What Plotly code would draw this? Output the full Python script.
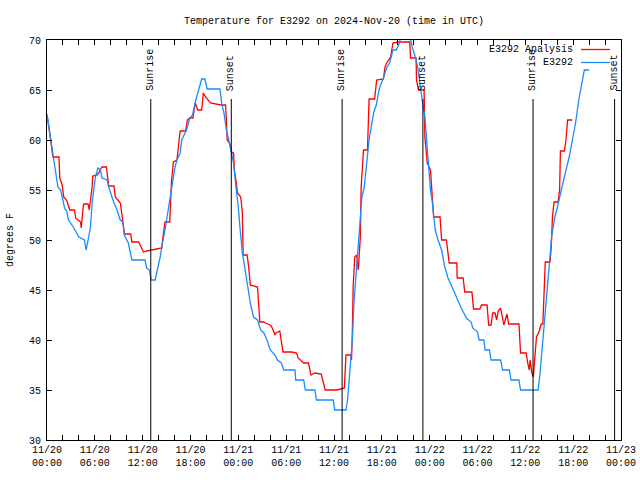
import pandas as pd
import plotly.graph_objects as go

START = pd.Timestamp("2024-11-20 00:00")

# E3292 Analysis (red) - hours since 11/20 00:00 UTC, degrees F
red_hours = [
    0, 0.25, 0.46, 0.67, 0.75, 1.5, 1.6, 1.9, 2.1, 2.45,
    2.7, 2.87, 3.45, 3.6, 4.2, 4.3, 4.5, 4.6, 5.16, 5.3,
    5.66, 5.74, 6.3, 6.5, 6.8, 6.9, 7.45, 7.6, 7.74, 8.4,
    8.57, 9.2, 9.4, 9.6, 9.73, 10.5, 10.65, 11.5, 11.7, 12.1,
    12.5, 13.56, 14.4, 14.5, 14.8, 15.4, 15.6, 15.85, 16.3, 16.6,
    16.7, 17.4, 17.6, 17.9, 18.3, 18.6, 18.9, 19.4, 19.6, 19.9,
    20.5, 21.8, 22.4, 22.5, 22.6, 22.9, 23.2, 23.4, 23.5, 23.7,
    23.9, 24.3, 24.5, 24.6, 25.1, 25.3, 25.5, 26.4, 26.5, 26.7,
    27.2, 27.4, 28.0, 28.2, 28.6, 28.7, 29.2, 29.6, 30.7, 31.3,
    31.5, 32.2, 32.8, 33.1, 33.6, 34.4, 34.9, 35.7, 36.4, 37.3,
    37.5, 38.1, 38.2, 38.3, 38.4, 38.6, 38.85, 39.05, 39.3, 39.4,
    39.7, 40.2, 40.4, 41.1, 41.35, 42.2, 42.4, 42.6, 43.1, 43.4,
    44.05, 45.5, 45.6, 46.3, 46.35, 46.6, 47.3, 47.4, 47.7, 48.1,
    48.3, 48.5, 49.3, 49.5, 50.1, 50.45, 51.4, 51.45, 52.2, 52.4,
    53.3, 53.5, 54.3, 54.5, 55.2, 55.4, 55.7, 55.9, 56.2, 56.4,
    56.6, 56.9, 57.3, 57.7, 57.9, 59.2, 59.4, 60.1, 60.3, 60.5,
    60.6, 60.8, 61.0, 61.2, 61.4, 61.7, 62.0, 62.2, 62.4, 62.5,
    63.1, 63.25, 63.4, 63.6, 64.1, 64.3, 64.4, 64.9, 65.1, 65.3,
    65.9,
]
red_temps = [
    62.5, 61.3, 60.0, 58.7, 58.3, 58.3, 56.2, 55.5, 54.3, 54.0,
    53.3, 53.0, 53.0, 52.2, 51.8, 51.2, 53.0, 53.6, 53.6, 53.0,
    55.3, 56.4, 56.5, 56.7, 57.2, 57.3, 57.3, 56.0, 55.4, 55.4,
    54.3, 53.7, 52.3, 51.0, 50.6, 50.6, 49.8, 49.8, 49.5, 48.8,
    48.9, 49.1, 49.2, 50.0, 51.8, 51.8, 55.7, 57.8, 58.0, 60.2,
    60.9, 60.9, 62.0, 62.2, 62.2, 63.7, 63.0, 63.0, 64.7, 64.3,
    63.7, 63.5, 63.5, 62.0, 60.0, 59.7, 58.7, 58.7, 57.0, 56.0,
    54.7, 54.3, 52.8, 48.5, 48.5, 47.3, 45.5, 45.3, 43.7, 41.8,
    41.8, 41.7, 41.5, 41.3, 40.5, 40.7, 40.9, 38.8, 38.8, 38.7,
    38.2, 37.7, 37.7, 36.5, 36.7, 36.6, 35.0, 35.0, 35.0, 35.2,
    38.5, 38.5, 38.0, 40.7, 45.3, 48.3, 48.5, 47.0, 50.3, 55.2,
    59.0, 59.0, 64.1, 64.1, 66.0, 66.1, 67.3, 67.7, 68.3, 69.7,
    69.8, 69.8, 68.2, 68.2, 66.0, 65.0, 65.0, 60.3, 57.7, 57.0,
    54.3, 52.3, 52.3, 50.0, 50.0, 47.7, 47.7, 46.2, 46.2, 44.8,
    44.8, 43.1, 43.1, 43.5, 43.5, 41.5, 41.5, 42.7, 42.7, 42.0,
    42.9, 43.2, 41.5, 42.6, 41.6, 41.6, 38.7, 38.7, 37.7, 37.0,
    38.0, 36.8, 36.3, 38.0, 40.3, 40.8, 41.6, 41.6, 46.2, 47.8,
    47.8, 49.3, 52.3, 53.8, 53.8, 55.0, 58.9, 58.9, 60.0, 62.0,
    62.0,
]

# E3292 observations (blue)
blue_hours = [
    0, 0.79, 1.08, 1.37, 1.71, 1.91, 2.2, 2.5, 2.7, 3.37,
    4.0, 4.7, 4.9, 5.16, 5.45, 5.66, 5.86, 6.07, 6.4, 6.7,
    6.9, 7.53, 7.74, 8.15, 8.36, 8.78, 9.19, 9.5, 9.69, 10.2,
    10.5, 10.65, 12.3, 12.5, 12.85, 13.06, 13.56, 13.77, 13.98, 14.2,
    14.4, 14.6, 14.8, 15.0, 15.2, 15.4, 15.6, 15.8, 16.06, 16.3,
    16.7, 16.9, 17.1, 17.5, 17.9, 18.26, 18.6, 19.0, 19.4, 19.8,
    20.1, 21.7, 21.9, 22.2, 22.5, 22.8, 23.1, 23.4, 23.7, 24.0,
    24.2, 24.5, 24.8, 25.1, 25.5, 25.9, 26.4, 26.8, 27.2, 27.6,
    28.0, 28.6, 28.9, 29.4, 29.7, 31.1, 31.2, 32.2, 32.4, 33.6,
    33.8, 35.9, 36.1, 37.5, 37.7, 37.9, 38.1, 38.3, 38.5, 38.7,
    38.9, 39.1, 39.3, 39.5, 39.8, 40.0, 40.2, 40.4, 40.6, 40.8,
    41.0, 41.3, 41.7, 42.2, 42.6, 42.97, 43.4, 43.8, 44.2, 44.4,
    45.5, 45.8, 46.2, 46.5, 46.7, 46.9, 47.1, 47.4, 47.7, 47.9,
    48.1, 48.3, 48.5, 48.7, 49.05, 49.5, 49.9, 50.3, 50.7, 51.1,
    51.5, 51.9, 52.6, 53.2, 53.4, 54.0, 54.2, 54.8, 54.95, 55.5,
    55.7, 56.9, 57.15, 58.0, 58.2, 59.2, 59.4, 61.6, 61.85, 62.05,
    62.25, 62.5, 62.7, 62.9, 63.1, 63.3, 63.5, 63.7, 64.0, 64.2,
    64.6, 65.1, 65.5, 65.9, 66.3, 66.7, 67.1, 67.4, 68.0,
]
blue_temps = [
    62.6, 58.0, 56.8, 55.3, 55.0, 54.3, 53.2, 52.8, 52.0, 51.2,
    50.3, 50.0, 49.0, 50.0, 51.3, 53.7, 55.3, 56.3, 57.2, 57.0,
    56.2, 56.0, 55.3, 54.3, 53.8, 53.0, 52.0, 51.8, 50.5, 49.7,
    48.7, 48.0, 48.0, 47.2, 47.0, 46.0, 46.0, 46.7, 47.3, 48.3,
    49.3, 50.0, 51.0, 52.0, 53.0, 54.0, 55.0, 56.0, 57.3, 58.0,
    58.7, 60.0, 60.3, 61.0, 62.2, 62.5, 63.8, 65.0, 66.1, 66.1,
    65.1, 65.1, 63.7, 62.7, 61.0, 60.0, 59.0, 57.7, 55.3, 53.3,
    51.3, 48.7, 47.3, 45.7, 43.7, 42.3, 42.0, 41.0, 40.7, 40.0,
    39.0, 38.5, 38.0, 37.7, 37.0, 37.0, 36.0, 36.0, 35.0, 35.0,
    34.0, 34.0, 33.0, 33.0, 34.0, 36.0, 38.3, 40.0, 43.7, 45.7,
    48.0, 50.0, 52.0, 54.3, 55.3, 57.0, 58.7, 60.0, 61.0, 62.0,
    62.8, 63.5, 65.2, 66.2, 67.2, 67.7, 69.0, 69.0, 69.7, 70.5,
    70.5, 69.3, 68.3, 67.3, 66.0, 65.0, 63.8, 62.3, 59.0, 56.7,
    55.0, 54.0, 52.3, 51.0, 50.0, 49.0, 47.3, 46.2, 45.5, 44.7,
    44.0, 43.3, 42.2, 41.8, 41.2, 40.8, 40.0, 40.0, 39.0, 39.0,
    38.0, 38.0, 37.0, 37.0, 36.0, 36.0, 35.0, 35.0, 36.7, 38.7,
    40.7, 42.7, 45.0, 47.0, 48.3, 50.3, 51.3, 52.3, 53.2, 54.0,
    55.3, 57.0, 58.3, 60.0, 61.7, 64.0, 65.7, 67.0, 67.0,
]

sunrise_times = ["2024-11-20 13:01", "2024-11-21 13:01", "2024-11-22 12:58"]
sunset_times = ["2024-11-20 23:07", "2024-11-21 23:09", "2024-11-22 23:12"]

series_names = ["E3292 Analysis", "E3292"]
series_colors = ["#ff0000", "#1a8cff"]

y_ticks = [30, 35, 40, 45, 50, 55, 60, 65, 70]
tick_hours = list(range(0, 73, 2))

FONT = "Liberation Mono, DejaVu Sans Mono, monospace"

def to_time(hours):
    return [START + pd.Timedelta(hours=h) for h in hours]

fig = go.Figure()
fig.add_trace(go.Scatter(x=to_time(red_hours), y=red_temps, mode="lines",
                         line=dict(color=series_colors[0], width=1.3),
                         name=series_names[0], showlegend=False))
fig.add_trace(go.Scatter(x=to_time(blue_hours), y=blue_temps, mode="lines",
                         line=dict(color=series_colors[1], width=1.3),
                         name=series_names[1], showlegend=False))

# plot area geometry (pixels)
L, R, T, B = 47, 621, 40, 440
PW, PH = R - L, B - T

def px_x(p):
    return (p - L) / PW

def px_y(p):
    return (B - p) / PH

shapes = []
annotations = []
for label, times in (("Sunrise", sunrise_times), ("Sunset", sunset_times)):
    for t in times:
        shapes.append(dict(type="line", xref="x", yref="paper", x0=t, x1=t,
                           y0=0, y1=px_y(99), line=dict(color="black", width=1)))
        annotations.append(dict(x=t, y=px_y(93), xref="x", yref="paper",
                                text=label, textangle=-90, showarrow=False,
                                xanchor="center", yanchor="bottom",
                                font=dict(family=FONT, size=10, color="black")))

# manual legend (text right-aligned, sample line to the right)
legend_rows = [49.5, 62.5]
for name, color, yy in zip(series_names, series_colors, legend_rows):
    annotations.append(dict(x=px_x(575), y=px_y(yy), xref="paper", yref="paper",
                            text=name, showarrow=False, xanchor="right",
                            yanchor="middle",
                            font=dict(family=FONT, size=10, color="black")))
    shapes.append(dict(type="line", xref="paper", yref="paper",
                       x0=px_x(581), x1=px_x(610), y0=px_y(yy), y1=px_y(yy),
                       line=dict(color=color, width=1.3)))

annotations.append(dict(x=px_x(10), y=0.5, xref="paper", yref="paper",
                        text="degrees F", textangle=-90, showarrow=False,
                        xanchor="center", yanchor="middle",
                        font=dict(family=FONT, size=10, color="black")))

tick_vals = to_time(tick_hours)
tick_text = []
for h, tv in zip(tick_hours, tick_vals):
    tick_text.append(tv.strftime("%m/%d<br>%H:%M") if h % 6 == 0 else "")

fig.update_layout(
    width=640, height=480,
    margin=dict(l=L, r=640 - R, t=T, b=480 - B, autoexpand=False),
    paper_bgcolor="white", plot_bgcolor="white",
    font=dict(family=FONT, size=10, color="black"),
    title=dict(text="Temperature for E3292 on 2024-Nov-20 (time in UTC)",
               x=0.5, xref="paper", xanchor="center",
               y=1 - 20 / 480, yref="container", yanchor="middle",
               font=dict(family=FONT, size=10, color="black")),
    shapes=shapes, annotations=annotations,
    xaxis=dict(type="date", range=[START, START + pd.Timedelta(hours=72)],
               tickmode="array", tickvals=tick_vals, ticktext=tick_text,
               ticks="inside", ticklen=5, tickcolor="black", tickwidth=1,
               showline=True, linecolor="black", linewidth=1, mirror="allticks",
               showgrid=False, zeroline=False, automargin=False,
               tickfont=dict(family=FONT, size=10, color="black")),
    yaxis=dict(range=[30, 70], tickmode="array", tickvals=y_ticks,
               ticks="inside", ticklen=5, tickcolor="black", tickwidth=1,
               showline=True, linecolor="black", linewidth=1, mirror="allticks",
               showgrid=False, zeroline=False, ticklabelstandoff=3,
               automargin=False,
               tickfont=dict(family=FONT, size=10, color="black")),
)

fig.write_html("out.html")
